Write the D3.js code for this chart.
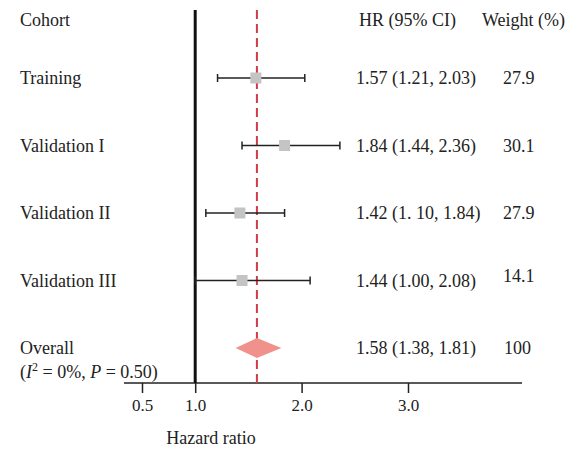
<!DOCTYPE html>
<html lang="en">
<head>
<meta charset="utf-8">
<title>Forest plot</title>
<style type="text/css">
  body { margin: 0; background: #fff; }
  svg text { font-family: "Liberation Serif", "DejaVu Serif", serif; fill: #222; }
</style>
</head>
<body>
<script src="https://d3js.org/d3.v7.min.js"></script>
<script>

    var w = 574;
    var h = 453;

    // data
    var cohorts = ["Training", "Validation I", "Validation II", "Validation III"];
    var hr      = [1.57, 1.84, 1.42, 1.44];
    var lower   = [1.21, 1.44, 1.10, 1.00];
    var upper   = [2.03, 2.36, 1.84, 2.08];
    var hrText  = ["1.57 (1.21, 2.03)", "1.84 (1.44, 2.36)", "1.42 (1. 10, 1.84)", "1.44 (1.00, 2.08)"];
    var weights = ["27.9", "30.1", "27.9", "14.1"];

    var overallHr = 1.58, overallLo = 1.38, overallHi = 1.81;
    var overallText = "1.58 (1.38, 1.81)";
    var overallWeight = "100";

    var tickValues = [0.5, 1.0, 2.0, 3.0];

    var serif = "'Liberation Serif', 'DejaVu Serif', serif";

    var svg = d3.select("body")
            .append("svg")
            .attr("width", w)
            .attr("height", h);

    var x = d3.scaleLinear().domain([0.5, 3.0]).range([142, 408]);
    var y = d3.scalePoint().domain(cohorts.concat(["Overall"])).range([78, 348]);
    var axisY = 383;

    // axis
    var axis = d3.axisBottom(x)
        .tickValues(tickValues)
        .tickFormat(d3.format(".1f"))
        .tickSize(10)
        .tickPadding(6);

    var gAxis = svg.append("g")
        .attr("transform", "translate(0," + axisY + ")")
        .call(axis);
    gAxis.select(".domain").remove();
    gAxis.selectAll(".tick line").attr("stroke", "#222").attr("stroke-width", 1.5);
    gAxis.selectAll(".tick text")
        .attr("fill", "#222")
        .style("font-family", serif)
        .style("font-size", "17px");
    gAxis.append("line")
        .attr("x1", 124).attr("x2", 522)
        .attr("y1", 0).attr("y2", 0)
        .attr("stroke", "#222").attr("stroke-width", 1.5);

    svg.append("text")
        .attr("x", 211).attr("y", 444)
        .attr("text-anchor", "middle")
        .style("font-family", serif)
        .style("font-size", "18px")
        .text("Hazard ratio");

    // null line
    svg.append("line")
        .attr("x1", x(1)).attr("x2", x(1))
        .attr("y1", 10).attr("y2", axisY)
        .attr("stroke", "#111").attr("stroke-width", 3);

    // overall effect line
    svg.append("line")
        .attr("x1", x(overallHr)).attr("x2", x(overallHr))
        .attr("y1", 10).attr("y2", axisY)
        .attr("stroke", "#d23a47").attr("stroke-width", 2)
        .attr("stroke-dasharray", "9,5");

    // CI bars
    var rows = svg.selectAll("g.row")
        .data(cohorts)
        .enter()
        .append("g")
        .attr("class", "row");

    rows.append("line")
        .attr("x1", function(d, i) { return x(lower[i]); })
        .attr("x2", function(d, i) { return x(upper[i]); })
        .attr("y1", function(d) { return y(d); })
        .attr("y2", function(d) { return y(d); })
        .attr("stroke", "#222").attr("stroke-width", 1.5);

    rows.append("line")
        .attr("x1", function(d, i) { return x(lower[i]); })
        .attr("x2", function(d, i) { return x(lower[i]); })
        .attr("y1", function(d) { return y(d) - 4; })
        .attr("y2", function(d) { return y(d) + 4; })
        .attr("stroke", "#222").attr("stroke-width", 1.5);

    rows.append("line")
        .attr("x1", function(d, i) { return x(upper[i]); })
        .attr("x2", function(d, i) { return x(upper[i]); })
        .attr("y1", function(d) { return y(d) - 4; })
        .attr("y2", function(d) { return y(d) + 4; })
        .attr("stroke", "#222").attr("stroke-width", 1.5);

    rows.append("rect")
        .attr("x", function(d, i) { return x(hr[i]) - 5.5; })
        .attr("y", function(d) { return y(d) - 5.5; })
        .attr("width", 11)
        .attr("height", 11)
        .attr("fill", "#c4c4c4");

    // diamond
    var yo = y("Overall");
    svg.append("path")
        .attr("d", "M" + x(overallLo) + "," + yo +
                   "L" + x(overallHr) + "," + (yo - 10) +
                   "L" + x(overallHi) + "," + yo +
                   "L" + x(overallHr) + "," + (yo + 10) + "Z")
        .attr("fill", "#f0918b");

    // text columns
    var fs = "18px";
    svg.append("text").attr("x", 20).attr("y", 26).style("font-size", fs).text("Cohort");
    svg.append("text").attr("x", 359).attr("y", 26).style("font-size", fs).text("HR (95% CI)");
    svg.append("text").attr("x", 482).attr("y", 26).style("font-size", fs).text("Weight (%)");

    rows.append("text")
        .attr("x", 20)
        .attr("y", function(d) { return y(d) + 6; })
        .style("font-size", fs)
        .text(function(d) { return d; });

    rows.append("text")
        .attr("x", 356)
        .attr("y", function(d) { return y(d) + 6; })
        .style("font-size", fs)
        .text(function(d, i) { return hrText[i]; });

    rows.append("text")
        .attr("x", 503)
        .attr("y", function(d, i) { return y(d) + (i == 3 ? 1 : 6); })
        .style("font-size", fs)
        .text(function(d, i) { return weights[i]; });

    svg.append("text").attr("x", 20).attr("y", yo + 6).style("font-size", fs).text("Overall");
    svg.append("text").attr("x", 356).attr("y", yo + 6).style("font-size", fs).text(overallText);
    svg.append("text").attr("x", 504).attr("y", yo + 6).style("font-size", fs).text(overallWeight);

    var stat = svg.append("text").attr("x", 20).attr("y", 378).style("font-size", fs);
    stat.append("tspan").text("(");
    stat.append("tspan").style("font-style", "italic").text("I");
    stat.append("tspan").attr("dy", -7).style("font-size", "12px").text("2");
    stat.append("tspan").attr("dy", 7).text(" = 0%, ");
    stat.append("tspan").style("font-style", "italic").text("P");
    stat.append("tspan").text(" = 0.50)");

</script>
</body>
</html>
